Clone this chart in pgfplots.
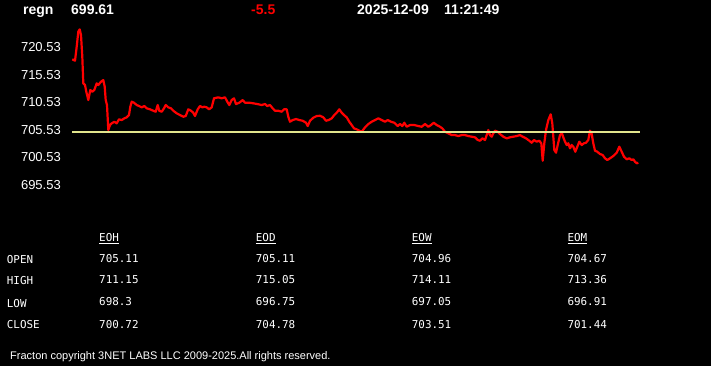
\documentclass[border=0pt]{standalone}
\usepackage{fontspec}
\setmainfont{Liberation Sans}
\newfontfamily\monof{DejaVu Sans Mono}
\usepackage{pgfplots}
\pgfplotsset{compat=1.18}
\definecolor{lvl}{RGB}{225,228,140}
\definecolor{pr}{RGB}{255,0,0}
\begin{document}
\begin{tikzpicture}[x=1pt,y=1pt]
\fill[black] (0,0) rectangle (711,366);
\begin{axis}[at={(72pt,181pt)}, anchor=south west, scale only axis,
  width=568pt, height=162.085pt, xmin=72, xmax=640, ymin=695.53, ymax=725,
  clip=false, axis line style={draw=none}, tick style={draw=none},
  major tick length=0pt, xtick=\empty,
  ytick={695.53,700.53,705.53,710.53,715.53,720.53},
  yticklabels={695.53,700.53,705.53,710.53,715.53,720.53},
  yticklabel style={font=\fontsize{13}{15}\selectfont, text=white, anchor=east, inner sep=0pt, xshift=-11pt}]
\addplot[pr, line width=2.2pt, line join=round, mark=none] coordinates {
(72.3,718.38) (75,718.12) (76.7,720.67) (78.3,723.40) (79.7,723.83) (81,722.80)
(82.3,718.85) (83.3,714.01) (85,713.71) (86.3,712.49) (88.3,710.98) (90.3,712.80)
(92.3,712.49) (94.3,712.80) (96.7,714.01) (98.3,713.71) (101,714.31) (103.3,714.61)
(104.7,713.40) (105.7,710.98) (107,710.07) (108.3,705.52) (110,706.43) (111.7,706.74)
(114.3,707.03) (116.7,706.74) (119,707.47) (121.7,707.34) (124.3,707.65) (126.7,707.83)
(129,708.25) (130.3,709.76) (131.7,710.67) (134,710.49) (136.7,710.07) (139,709.89)
(141.7,709.65) (144.3,709.89) (146.7,709.47) (150,709.29) (153.3,709.03) (155.7,708.85)
(157.7,710.07) (159.3,709.03) (161.7,708.85) (164,709.47) (165.7,710.07) (168.3,709.65)
(171,709.47) (173.3,709.03) (176.7,708.56) (180,708.25) (183.3,707.94) (185.7,708.07)
(188.3,709.29) (191,709.03) (193.3,708.67) (195,708.07) (197.7,709.29) (200,709.89)
(202.3,709.65) (204.3,709.76) (206.7,709.65) (209,709.29) (211.7,709.65) (214,711.29)
(218.3,711.47) (221.7,711.29) (225,711.47) (227.3,710.67) (229.3,710.07) (231.7,710.98)
(234,711.29) (236,710.25) (239.3,710.49) (242.7,710.98) (245,710.49) (249.3,710.49)
(253.3,710.38) (257.3,710.25) (261.7,710.07) (265,710.25) (267.3,709.89) (270,710.07)
(272.7,709.47) (275,709.03) (278.3,709.03) (281.7,708.85) (284,709.29) (286.7,709.29)
(288.3,707.94) (290,707.03) (292.7,707.34) (296,707.52) (299.3,707.34) (302.7,707.21)
(306,706.85) (307.7,706.25) (310,707.21) (313.3,707.76) (316.7,708.07) (320,708.12)
(323.3,707.83) (326,707.21) (328.7,707.34) (331.7,707.65) (334.3,708.25) (336.7,708.67)
(339.3,709.29) (341.7,708.67) (344,708.25) (346.7,707.83) (349.3,707.03) (351.7,706.43)
(354,705.83) (356.7,705.65) (359.3,705.40) (361.7,705.21) (365,706.01) (368.3,706.61)
(371.7,707.03) (375,707.34) (378.3,707.65) (381.7,707.34) (385,707.03) (387.7,707.34)
(391,707.03) (394.3,706.85) (397.7,706.25) (400,706.61) (402.3,706.25) (404.3,706.85)
(406.7,706.12) (410,706.43) (414.3,706.43) (418.3,706.25) (421.7,706.12) (425,706.61)
(428.3,706.12) (431,706.43) (433.7,706.85) (436.7,706.43) (440,706.12) (442.3,705.83)
(445,705.21) (448.3,704.92) (451.7,704.61) (455,704.61) (458.3,704.43) (461.7,704.61)
(465,704.61) (468.3,704.43) (471.7,704.31) (475,704.20) (477.7,703.71) (480,703.58)
(482.3,704.01) (485,703.71) (486.7,704.61) (488.3,705.52) (490,704.61) (491.7,704.31)
(493.3,704.92) (495,705.40) (497.7,705.21) (500,704.80) (503.3,704.31) (506.7,704.01)
(510,704.20) (513.3,704.31) (516.7,704.43) (520,704.61) (522.7,704.31) (526,704.01)
(529.3,703.58) (531.7,703.21) (534,703.71) (536.7,703.40) (539.3,703.58) (541.3,703.11)
(542.7,699.94) (544.3,703.11) (546,705.52) (548.3,707.34) (550.7,708.38) (552.3,706.74)
(554.3,701.89) (556,701.40) (557.7,702.80) (560,704.61) (562,704.92) (563.3,704.20)
(565,703.40) (566.7,702.80) (568.3,703.11) (570,702.20) (571.7,702.80) (573.3,702.49)
(575.3,701.58) (577.3,702.49) (579.3,703.40) (581.7,702.80) (584,703.11) (586,703.21)
(588.3,703.71) (590,705.40) (591.7,704.80) (593.3,703.11) (595,701.76) (597.3,701.58)
(600,701.16) (602.7,700.98) (605,700.38) (607.3,700.07) (610,700.38) (613.3,700.80)
(616.7,701.40) (619.3,702.49) (621.7,701.58) (624,700.67) (626.7,700.20) (629.3,700.38)
(631.7,700.07) (633.3,700.20) (635,699.76) (636.7,699.47) (638.3,699.58)
};
\addplot[lvl, line width=2.2pt, mark=none] coordinates {(72,705.11) (640,705.11)};
\end{axis}
% header
\begin{scope}[every node/.style={anchor=base west, inner sep=0pt, font=\fontsize{14}{16}\selectfont\bfseries, text=white}]
\node at (23,351.7) {regn};
\node at (71,351.7) {699.61};
\node[text=pr] at (251,351.7) {-5.5};
\node at (357,351.7) {2025-12-09};
\node at (444,351.7) {11:21:49};
\end{scope}
% table
\begin{scope}[every node/.style={anchor=base west, inner sep=0pt, font=\monof\fontsize{10.9}{13}\selectfont, text=white}]
\node at (99,124.3) {\underline{EOH}};
\node at (255.7,124.3) {\underline{EOD}};
\node at (411.7,124.3) {\underline{EOW}};
\node at (567.3,124.3) {\underline{EOM}};
\node at (6.7,102) {OPEN};
\node at (6.7,81) {HIGH};
\node at (6.7,58.7) {LOW};
\node at (6.7,37) {CLOSE};
\node at (99,103.7) {705.11};
\node at (99,82) {711.15};
\node at (99,60) {698.3};
\node at (99,37.7) {700.72};
\node at (255.7,103.7) {705.11};
\node at (255.7,82) {715.05};
\node at (255.7,60) {696.75};
\node at (255.7,37.7) {704.78};
\node at (411.7,103.7) {704.96};
\node at (411.7,82) {714.11};
\node at (411.7,60) {697.05};
\node at (411.7,37.7) {703.51};
\node at (567.3,103.7) {704.67};
\node at (567.3,82) {713.36};
\node at (567.3,60) {696.91};
\node at (567.3,37.7) {701.44};
\end{scope}
\node[anchor=base west, inner sep=0pt, font=\fontsize{11}{13}\selectfont, text=white] at (10,6.5) {Fracton copyright 3NET LABS LLC 2009-2025.All rights reserved.};
\end{tikzpicture}
\end{document}
